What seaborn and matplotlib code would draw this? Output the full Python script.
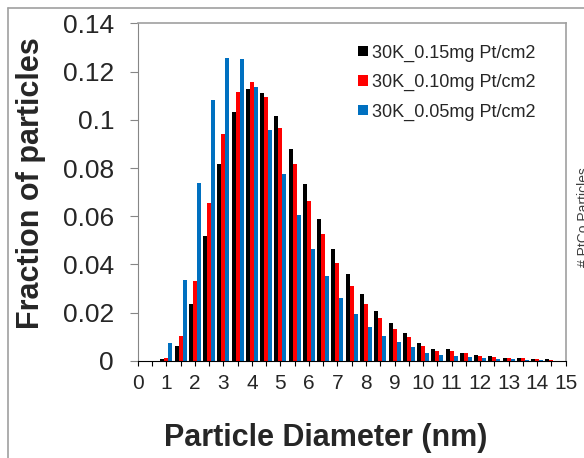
import matplotlib
matplotlib.use("Agg")
import matplotlib.pyplot as plt
from matplotlib.lines import Line2D
import numpy as np
import pandas as pd
import seaborn as sns

# particle diameter bins (nm)
sizes = [0, 0.5, 1.0, 1.5, 2.0, 2.5, 3.0, 3.5, 4.0, 4.5, 5.0, 5.5, 6.0, 6.5, 7.0, 7.5,
         8.0, 8.5, 9.0, 9.5, 10.0, 10.5, 11.0, 11.5, 12.0, 12.5, 13.0, 13.5, 14.0, 14.5, 15.0]

series = ['30K_0.15mg Pt/cm2', '30K_0.10mg Pt/cm2', '30K_0.05mg Pt/cm2']

frac_015 = [0, 0, 0.0006, 0.0060, 0.0234, 0.0517, 0.0816, 0.1032, 0.1128, 0.1110, 0.1016,
            0.0879, 0.0733, 0.0588, 0.0463, 0.0359, 0.0276, 0.0207, 0.0157, 0.0117, 0.0073,
            0.0049, 0.0049, 0.0033, 0.0024, 0.0018, 0.0012, 0.0010, 0.0007, 0.0007, 0]
frac_010 = [0, 0, 0.0010, 0.0103, 0.0331, 0.0655, 0.0943, 0.1117, 0.1158, 0.1093, 0.0968,
            0.0816, 0.0664, 0.0525, 0.0406, 0.0312, 0.0237, 0.0177, 0.0132, 0.0098, 0.0061,
            0.0042, 0.0040, 0.0030, 0.0021, 0.0015, 0.0012, 0.0011, 0.0007, 0.0002, 0]
frac_005 = [0, 0, 0.0073, 0.0335, 0.0739, 0.1083, 0.1257, 0.1254, 0.1135, 0.0959, 0.0777,
            0.0606, 0.0463, 0.0350, 0.0261, 0.0193, 0.0140, 0.0104, 0.0076, 0.0055, 0.0034,
            0.0022, 0.0021, 0.0017, 0.0011, 0.0008, 0.0006, 0.0003, 0.0002, 0, 0]

colors = ['#000000', '#FF0000', '#0070C0']

size_labels = ['%g' % s for s in sizes]
df = pd.DataFrame({
    'size': size_labels * 3,
    'fraction': frac_015 + frac_010 + frac_005,
    'series': [series[0]] * len(sizes) + [series[1]] * len(sizes) + [series[2]] * len(sizes),
})

sns.set_style("ticks")
plt.rcParams['font.family'] = ['Liberation Sans', 'DejaVu Sans']

fig = plt.figure(figsize=(5.84, 4.58), dpi=100)
ax = fig.add_axes([0.2358, 0.2124, 0.7329, 0.7363])

sns.barplot(data=df, x='size', y='fraction', hue='series', order=size_labels,
            hue_order=series, palette=colors, width=0.84, saturation=1,
            linewidth=0, ax=ax)

ax.set_xlim(0, len(sizes) - 1)
ax.set_ylim(0, 0.14)
ax.set_yticks(np.arange(0, 0.141, 0.02))
ax.set_yticklabels(['0', '0.02', '0.04', '0.06', '0.08', '0.1', '0.12', '0.14'])
ax.set_xticks(range(0, len(sizes), 2))
ax.set_xticklabels([str(i) for i in range(16)])
ax.set_xticks(range(1, len(sizes), 2), minor=True)

ax.tick_params(axis='y', labelsize=19, length=6, width=0.8, color='#868686', pad=11)
ax.tick_params(axis='x', which='both', labelsize=15, length=3.5, width=0.8, color='black', pad=6)

ax.set_xlabel('Particle Diameter (nm)', fontsize=22, fontweight='bold')
ax.set_ylabel('Fraction of particles', fontsize=22, fontweight='bold')
ax.xaxis.set_label_coords(0.44, -0.185)
ax.yaxis.set_label_coords(-0.215, 0.527)

for side in ['top', 'right']:
    ax.spines[side].set_visible(True)
    ax.spines[side].set_color('#a0a0a0')
    ax.spines[side].set_linewidth(1.2)
ax.spines['left'].set_color('#868686')
ax.spines['bottom'].set_color('black')

handles, labels = ax.get_legend_handles_labels()
ax.legend(handles, labels, loc='upper right', bbox_to_anchor=(0.93, 0.938),
          frameon=False, fontsize=13, handlelength=0.55, handleheight=0.55,
          handletextpad=0.25, labelspacing=0.68, borderpad=0, borderaxespad=0)

# chart area border (left and top) and cut-off neighbouring axis title
fig.add_artist(Line2D([8 / 584, 8 / 584], [0, 1 - 8 / 458], color='#a0a0a0', lw=1.2))
fig.add_artist(Line2D([8 / 584, 1], [1 - 8 / 458, 1 - 8 / 458], color='#a0a0a0', lw=1.2))
fig.text(577 / 584, 1 - 217 / 458, '# PtCo Particles', rotation=90, fontsize=10,
         ha='left', va='center', color='#404040')

fig.savefig('out.png', dpi=100)
